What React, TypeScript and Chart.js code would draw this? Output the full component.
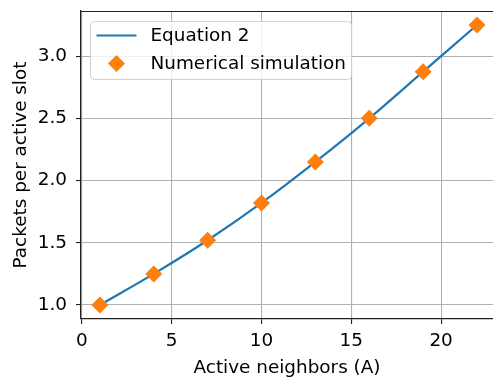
import React, { useEffect, useRef } from "react";
import { Chart, registerables } from "chart.js";

Chart.register(...registerables);

const eqLabel = "Equation 2";
const simLabel = "Numerical simulation";
const xTitle = "Active neighbors (A)";
const yTitle = "Packets per active slot";

const eqX = [1, 4, 7, 10, 13, 16, 19, 22];
const eqY = [1.0, 1.25, 1.52, 1.82, 2.15, 2.5, 2.875, 3.25];
const simX = [1, 4, 7, 10, 13, 16, 19, 22];
const simY = [1.0, 1.25, 1.52, 1.82, 2.15, 2.5, 2.875, 3.25];

const xTicks = [0, 5, 10, 15, 20];
const yTicks = [1.0, 1.5, 2.0, 2.5, 3.0];

const BLUE = "#1f77b4";
const ORANGE = "#ff7f0e";
const FONT = "'DejaVu Sans', sans-serif";
const FS = 18.4;
const SPINE = "#222222";

const frameAndLegend = {
  id: "frameAndLegend",
  afterDraw(chart: any) {
    const { ctx, chartArea } = chart;
    ctx.save();
    // top spine
    ctx.strokeStyle = SPINE;
    ctx.lineWidth = 1.2;
    ctx.beginPath();
    ctx.moveTo(chartArea.left, chartArea.top + 0.5);
    ctx.lineTo(chartArea.right, chartArea.top + 0.5);
    ctx.stroke();

    // legend
    const bx = chartArea.left + 9.5;
    const by = chartArea.top + 10.5;
    const bw = 261;
    const bh = 58;
    const r = 4;
    ctx.beginPath();
    ctx.moveTo(bx + r, by);
    ctx.lineTo(bx + bw - r, by);
    ctx.arcTo(bx + bw, by, bx + bw, by + r, r);
    ctx.lineTo(bx + bw, by + bh - r);
    ctx.arcTo(bx + bw, by + bh, bx + bw - r, by + bh, r);
    ctx.lineTo(bx + r, by + bh);
    ctx.arcTo(bx, by + bh, bx, by + bh - r, r);
    ctx.lineTo(bx, by + r);
    ctx.arcTo(bx, by, bx + r, by, r);
    ctx.closePath();
    ctx.fillStyle = "rgba(255,255,255,0.8)";
    ctx.fill();
    ctx.strokeStyle = "rgba(204,204,204,0.9)";
    ctx.lineWidth = 1;
    ctx.stroke();

    const row1 = by + 14;
    const row2 = by + 42;
    ctx.strokeStyle = BLUE;
    ctx.lineWidth = 2.2;
    ctx.beginPath();
    ctx.moveTo(bx + 6, row1);
    ctx.lineTo(bx + 46, row1);
    ctx.stroke();

    const mx = bx + 26;
    const mr = 8.5;
    ctx.fillStyle = ORANGE;
    ctx.beginPath();
    ctx.moveTo(mx, row2 - mr);
    ctx.lineTo(mx + mr, row2);
    ctx.lineTo(mx, row2 + mr);
    ctx.lineTo(mx - mr, row2);
    ctx.closePath();
    ctx.fill();

    ctx.fillStyle = "#000";
    ctx.font = `${FS}px ${FONT}`;
    ctx.textBaseline = "middle";
    ctx.textAlign = "left";
    ctx.fillText(eqLabel, bx + 60, row1 + 1);
    ctx.fillText(simLabel, bx + 60, row2 + 1);
    ctx.restore();
  },
};

export default function App() {
  const ref = useRef<HTMLCanvasElement | null>(null);
  useEffect(() => {
    if (!ref.current) return;
    const chart = new Chart(ref.current, {
      type: "scatter",
      data: {
        datasets: [
          {
            label: eqLabel,
            data: eqX.map((x, i) => ({ x, y: eqY[i] })),
            showLine: true,
            borderColor: BLUE,
            borderWidth: 2.2,
            pointRadius: 0,
            cubicInterpolationMode: "monotone",
            order: 1,
          },
          {
            label: simLabel,
            data: simX.map((x, i) => ({ x, y: simY[i] })),
            showLine: false,
            pointStyle: "rectRot",
            pointRadius: 8.5,
            pointBackgroundColor: ORANGE,
            pointBorderColor: ORANGE,
            pointBorderWidth: 0,
            order: 0,
          },
        ],
      },
      options: {
        animation: false,
        responsive: false,
        devicePixelRatio: 1,
        layout: { autoPadding: false, padding: { top: 11, left: 0, right: 0, bottom: 0 } },
        plugins: { legend: { display: false }, tooltip: { enabled: false } },
        scales: {
          x: {
            type: "linear",
            min: -0.05,
            max: 22.89,
            afterBuildTicks: (s: any) => {
              s.ticks = xTicks.map((v) => ({ value: v }));
            },
            afterFit: (s: any) => {
              s.height = 58;
              s.paddingLeft = 0;
              s.paddingRight = 0;
              s.paddingTop = 0;
              s.paddingBottom = 0;
            },
            grid: {
              color: "#b0b0b0",
              lineWidth: 1.1,
              tickLength: 5,
              tickColor: SPINE,
              tickWidth: 1.1,
            },
            border: { display: true, color: SPINE, width: 1.2 },
            ticks: {
              color: "#000",
              font: { family: FONT, size: FS },
              padding: 6,
              maxRotation: 0,
              callback: (v: any) => String(v),
            },
            title: {
              display: true,
              text: xTitle,
              color: "#000",
              font: { family: FONT, size: FS },
              padding: { top: 0, bottom: -2 },
            },
          },
          y: {
            type: "linear",
            min: 0.8875,
            max: 3.3625,
            afterBuildTicks: (s: any) => {
              s.ticks = yTicks.map((v) => ({ value: v }));
            },
            afterFit: (s: any) => {
              s.width = 81;
              s.paddingLeft = 0;
              s.paddingRight = 0;
              s.paddingTop = 0;
              s.paddingBottom = 0;
            },
            grid: {
              color: "#b0b0b0",
              lineWidth: 1.1,
              tickLength: 5,
              tickColor: SPINE,
              tickWidth: 1.1,
            },
            border: { display: true, color: SPINE, width: 1.2 },
            ticks: {
              color: "#000",
              font: { family: FONT, size: FS },
              padding: 9,
              callback: (v: any) => Number(v).toFixed(1),
            },
            title: {
              display: true,
              text: yTitle,
              color: "#000",
              font: { family: FONT, size: FS },
              padding: { top: 10, bottom: 0 },
            },
          },
        },
      },
      plugins: [frameAndLegend],
    });
    return () => chart.destroy();
  }, []);
  return (
    <div style={{ position: "fixed", left: 0, top: 0, width: 493, height: 377, background: "#fff" }}>
      <canvas ref={ref} width={493} height={377} style={{ width: 493, height: 377 }} />
    </div>
  );
}
